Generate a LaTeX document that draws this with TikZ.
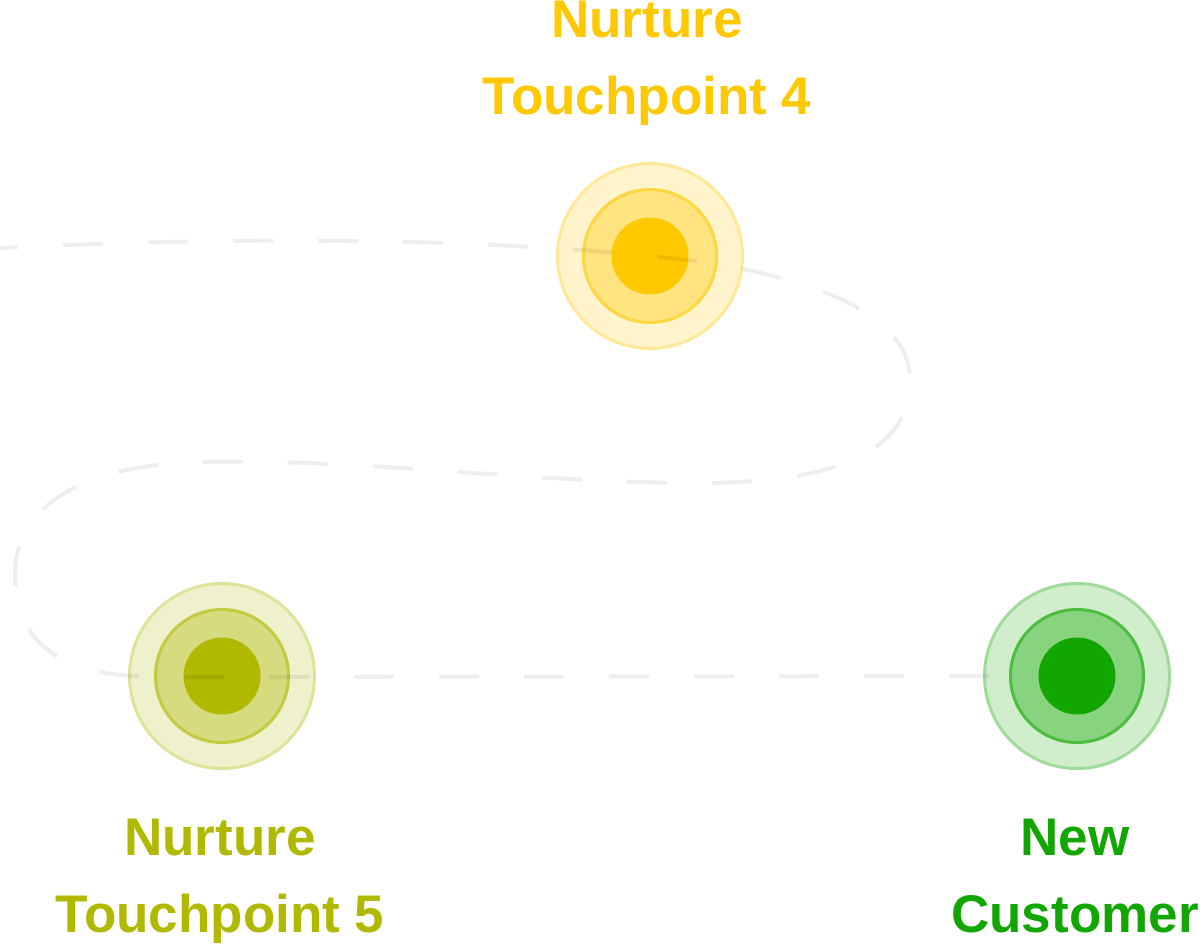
\documentclass[tikz,border=0pt]{standalone}
\usepackage{fontspec}
\setmainfont{Liberation Sans}
\usepackage{tikz}
\usetikzlibrary{positioning}
\usepackage{xcolor}

\definecolor{tpyellow}{RGB}{255,200,0}
\definecolor{tpolive}{RGB}{176,184,0}
\definecolor{tpgreen}{RGB}{18,167,0}

\begin{document}
\begin{tikzpicture}[x=1pt, y=-1pt,
                  halo/.style={circle, inner sep=0pt, line width=3pt,
                              minimum size=185pt, fill=#1!20, draw=#1!40},
                  ring/.style={circle, inner sep=0pt, line width=3pt,
                              minimum size=133pt, fill=#1!50, draw=#1!75},
                  dot/.style={circle, inner sep=0pt, minimum size=77pt, fill=#1},
                  lbl/.style={text=#1, font=\fontsize{53}{77}\selectfont\bfseries,
                              align=center, inner sep=0pt, anchor=base},
                  trail/.style={line width=4pt, black, opacity=0.065,
                              dash pattern=on 40pt off 45pt, dash phase=22pt},
            ]
            \useasboundingbox (0,0) rectangle (1200,943);

            % touchpoints
            \node[halo=tpyellow] (tp4halo) at (650,256) {};
            \node[ring=tpyellow] (tp4ring) at (tp4halo) {};
            \node[dot=tpyellow] (tp4) at (tp4halo) {};

            \node[halo=tpolive] (tp5halo) at (222,676) {};
            \node[ring=tpolive] (tp5ring) at (tp5halo) {};
            \node[dot=tpolive] (tp5) at (tp5halo) {};

            \node[halo=tpgreen] (custhalo) at (1077,676) {};
            \node[ring=tpgreen] (custring) at (custhalo) {};
            \node[dot=tpgreen] (cust) at (custhalo) {};

            % labels
            \node[lbl=tpyellow] (tp4lbl) at (647,114) {Nurture\\Touchpoint 4};
            \node[lbl=tpolive] (tp5lbl) at (220,932) {Nurture\\Touchpoint 5};
            \node[lbl=tpgreen] (custlbl) at (1075,932) {New\\Customer};

            % dashed journey
            \coordinate (start) at (0,248);
            \draw[trail] (start) .. controls (200,238) and (450,236) .. (tp4.center)
                  .. controls (800,270) and (910,310) .. (910,380)
                  .. controls (910,460) and (820,485) .. (680,483)
                  .. controls (500,480) and (350,458) .. (200,462)
                  .. controls (60,466) and (15,520) .. (15,575)
                  .. controls (15,650) and (70,677) .. (160,677)
                  -- (custring.west);
      \end{tikzpicture}
\end{document}
